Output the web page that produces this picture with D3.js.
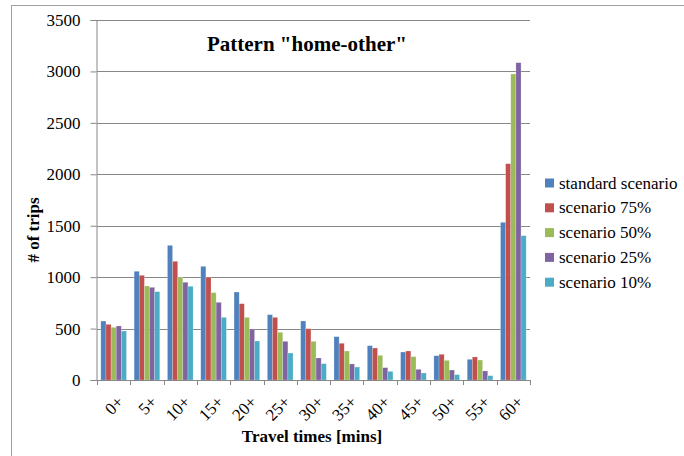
<!DOCTYPE html>
<html>
<head>
<meta charset="utf-8">
<script src="https://cdn.jsdelivr.net/npm/d3@7"></script>
<style>
  html, body { margin: 0; padding: 0; background: #fff; }
  svg { display: block; }
  svg text { font-family: "Liberation Serif", "Times New Roman", serif; }
</style>
</head>
<body>
<svg id="chart" width="684" height="456"></svg>
<script>
// Travel-time classes (minutes)
const categories = ["0+", "5+", "10+", "15+", "20+", "25+", "30+", "35+", "40+", "45+", "50+", "55+", "60+"];

// Number of trips per scenario
const seriesNames = ["standard scenario", "scenario 75%", "scenario 50%", "scenario 25%", "scenario 10%"];
const standardScenario = [573, 1057, 1309, 1105, 855, 635, 574, 421, 334, 272, 236, 201, 1533];
const scenario75 = [541, 1018, 1154, 1000, 742, 609, 499, 357, 311, 282, 250, 224, 2103];
const scenario50 = [512, 914, 998, 849, 609, 464, 376, 282, 240, 227, 191, 194, 2975];
const scenario25 = [525, 901, 950, 755, 496, 376, 214, 156, 120, 104, 97, 88, 3085];
const scenario10 = [476, 859, 911, 609, 379, 262, 159, 126, 84, 68, 52, 42, 1403];
const seriesValues = [standardScenario, scenario75, scenario50, scenario25, scenario10];
const seriesColors = ["#4F81BD", "#C0504D", "#9BBB59", "#8064A2", "#4BACC6"];

const yTicks = [0, 500, 1000, 1500, 2000, 2500, 3000, 3500];

const FONT = "Liberation Serif, Times New Roman, serif";
const svg = d3.select("#chart").attr("font-family", FONT);

// outer chart frame
svg.append("rect")
  .attr("x", 11.5).attr("y", 5.5)
  .attr("width", 700).attr("height", 500)
  .attr("fill", "none").attr("stroke", "#A0A0A0").attr("stroke-width", 1);

const plot = { left: 97, right: 530, top: 20, bottom: 380 };

const x = d3.scaleBand()
  .domain(categories)
  .range([plot.left, plot.right])
  .paddingInner(0.23)
  .paddingOuter(0.115);

const x1 = d3.scaleBand()
  .domain(seriesNames)
  .range([0, x.bandwidth()]);

const y = d3.scaleLinear()
  .domain([0, 3500])
  .range([plot.bottom, plot.top]);

// horizontal gridlines
svg.append("g")
  .selectAll("line")
  .data(yTicks.filter(d => d > 0))
  .join("line")
  .attr("x1", plot.left).attr("x2", plot.right)
  .attr("y1", d => Math.round(y(d)) + 0.5).attr("y2", d => Math.round(y(d)) + 0.5)
  .attr("stroke", "#878787").attr("stroke-width", 1);

// bars
const groups = svg.append("g")
  .selectAll("g")
  .data(categories)
  .join("g")
  .attr("transform", d => `translate(${x(d)},0)`);

groups.selectAll("rect")
  .data((c, i) => seriesNames.map((s, k) => ({ s, v: seriesValues[k][i], color: seriesColors[k] })))
  .join("rect")
  .attr("x", d => x1(d.s))
  .attr("width", x1.bandwidth())
  .attr("y", d => y(d.v))
  .attr("height", d => y(0) - y(d.v))
  .attr("fill", d => d.color)
  .attr("stroke", "rgba(255,255,255,0.35)")
  .attr("stroke-width", 0.6);

// y axis
const yAxis = svg.append("g")
  .attr("transform", `translate(${plot.left - 0.5},0)`)
  .call(d3.axisLeft(y).tickValues(yTicks).tickSize(6).tickPadding(10).tickFormat(d3.format("d")))
  .attr("font-family", FONT);
yAxis.select(".domain").attr("stroke", "#878787");
yAxis.selectAll(".tick line").attr("stroke", "#878787");
yAxis.selectAll(".tick text")
  .attr("font-size", 17).attr("fill", "#000");

// x axis line and category boundary ticks
const step = x.step();
const boundaries = d3.range(categories.length + 1).map(i => plot.left + i * step);
const xAxis = svg.append("g");
xAxis.append("line")
  .attr("x1", plot.left).attr("x2", plot.right)
  .attr("y1", plot.bottom + 0.5).attr("y2", plot.bottom + 0.5)
  .attr("stroke", "#878787");
xAxis.selectAll("line.tk")
  .data(boundaries)
  .join("line")
  .attr("class", "tk")
  .attr("x1", d => Math.round(d) + 0.5).attr("x2", d => Math.round(d) + 0.5)
  .attr("y1", plot.bottom).attr("y2", plot.bottom + 5)
  .attr("stroke", "#878787");

// rotated category labels
xAxis.selectAll("text")
  .data(categories)
  .join("text")
  .attr("transform", d => `translate(${x(d) + x.bandwidth() / 2 + 11},${plot.bottom + 23}) rotate(-45)`)
  .attr("text-anchor", "end")
  .attr("font-size", 17)
  .attr("fill", "#000")
  .text(d => d);

// title
svg.append("text")
  .attr("x", 307).attr("y", 51)
  .attr("text-anchor", "middle")
  .attr("font-size", 21).attr("font-weight", "bold")
  .text('Pattern "home-other"');

// axis titles
svg.append("text")
  .attr("x", 312).attr("y", 442)
  .attr("text-anchor", "middle")
  .attr("font-size", 17).attr("font-weight", "bold")
  .text("Travel times [mins]");

svg.append("text")
  .attr("transform", "translate(39,230) rotate(-90)")
  .attr("text-anchor", "middle")
  .attr("font-size", 17).attr("font-weight", "bold")
  .text("# of trips");

// legend
const legend = svg.append("g")
  .selectAll("g")
  .data(seriesNames)
  .join("g")
  .attr("transform", (d, i) => `translate(545,${183 + i * 24.8})`);
legend.append("rect")
  .attr("x", 0).attr("y", -4.5)
  .attr("width", 9).attr("height", 9)
  .attr("fill", (d, i) => seriesColors[i]);
legend.append("text")
  .attr("x", 14).attr("y", 5.5)
  .attr("font-size", 17).attr("fill", "#000")
  .text(d => d);
</script>
</body>
</html>
